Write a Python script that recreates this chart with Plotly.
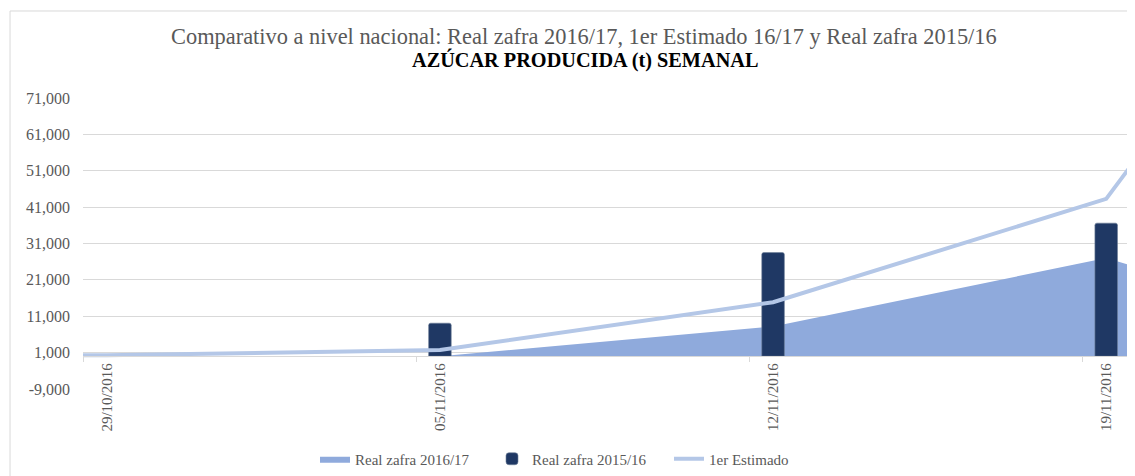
import plotly.graph_objects as go

# ---- data ----
dates = ["2016-10-22", "2016-10-29", "2016-11-05", "2016-11-12", "2016-11-19", "2016-11-26"]
real_1617 = [0, 0, 0, 8200, 27000, 0]
est_1617 = [0, 300, 1700, 14850, 43260, 166000]
real_1516 = [None, None, 9100, 28500, 36600, None]

x_tick_vals = ["2016-10-29", "2016-11-05", "2016-11-12", "2016-11-19"]
x_tick_text = ["29/10/2016", "05/11/2016", "12/11/2016", "19/11/2016"]
x_bound_ticks = ["2016-10-28 12:00", "2016-11-04 12:00", "2016-11-11 12:00", "2016-11-18 12:00"]
y_tick_vals = [-9000, 1000, 11000, 21000, 31000, 41000, 51000, 61000, 71000]
y_tick_text = ["-9,000", "1,000", "11,000", "21,000", "31,000", "41,000", "51,000", "61,000", "71,000"]

title_1 = "Comparativo a nivel nacional: Real zafra 2016/17, 1er Estimado 16/17 y Real zafra 2015/16"
title_2 = "AZÚCAR PRODUCIDA (t) SEMANAL"

FONT = "Liberation Serif, Times New Roman, serif"
GREY = "#595959"
GRID = "#D9D9D9"
x_range = ["2016-10-28 12:00", "2016-11-19 12:00"]
y_range = [-9000, 71000]
zero_pos = (0 - y_range[0]) / (y_range[1] - y_range[0])

fig = go.Figure()

fig.add_trace(go.Scatter(
    x=dates, y=real_1617, name="Real zafra 2016/17",
    mode="lines", line=dict(width=0, color="#8FAADC"),
    fill="tozeroy", fillcolor="#8FAADC",
    xaxis="x", yaxis="y", legendrank=1,
))
fig.add_trace(go.Bar(
    x=dates, y=real_1516, name="Real zafra 2015/16",
    marker=dict(color="#1F3864", line=dict(color="#6F7F99", width=0.6), cornerradius=2),
    width=41_000_000,
    xaxis="x2", yaxis="y2", legendrank=2,
))
fig.add_trace(go.Scatter(
    x=dates, y=est_1617, name="1er Estimado",
    mode="lines", line=dict(width=4, color="#B4C7E7"),
    xaxis="x2", yaxis="y2", legendrank=3,
))

# page body has an 8px default margin: figure is sized so it fits the window exactly
H = 468
fig.update_layout(
    width=1127, height=H,
    margin=dict(l=75, r=5, t=90, b=87, autoexpand=False),
    paper_bgcolor="white", plot_bgcolor="white",
    font=dict(family=FONT, color=GREY),
    barmode="overlay",
    xaxis=dict(
        type="date", range=x_range,
        anchor="free", position=zero_pos,
        tickvals=x_tick_vals, ticktext=x_tick_text, tickangle=-90,
        ticks="", showgrid=False, zeroline=False,
        showline=True, linecolor=GRID, linewidth=1,
        tickfont=dict(family=FONT, size=15, color=GREY),
    ),
    xaxis2=dict(
        type="date", range=x_range, overlaying="x", matches="x",
        anchor="free", position=zero_pos,
        tickvals=x_bound_ticks, ticks="outside", ticklen=5, tickcolor=GRID,
        showticklabels=False, showgrid=False, zeroline=False, showline=False,
    ),
    yaxis=dict(
        range=y_range, tickvals=y_tick_vals, ticktext=y_tick_text,
        showgrid=True, gridcolor=GRID, gridwidth=1, zeroline=False,
        ticks="", ticklabelstandoff=12,
        tickfont=dict(family=FONT, size=16, color=GREY),
    ),
    yaxis2=dict(
        range=y_range, overlaying="y", showgrid=False, zeroline=False,
        showticklabels=False, ticks="",
    ),
    legend=dict(
        orientation="h", xref="paper", x=(315 - 83) / 1047, xanchor="left",
        yref="container", y=(H - (459 - 8)) / H, yanchor="middle",
        font=dict(family=FONT, size=15, color=GREY),
        traceorder="normal", entrywidth=132, entrywidthmode="pixels",
    ),
    showlegend=True,
    shapes=[dict(
        type="rect", xref="paper", yref="paper",
        x0=-0.0697, x1=1.2, y0=-0.6, y1=1.299,
        line=dict(color=GRID, width=1), fillcolor="rgba(0,0,0,0)", layer="below",
    )],
    annotations=[
        dict(text=title_1, xref="paper", yref="paper", x=(584 - 83) / 1047, y=(389 - 36.5) / 291,
             xanchor="center", yanchor="middle", showarrow=False,
             font=dict(family=FONT, size=22.4, color=GREY)),
        dict(text="<b>" + title_2 + "</b>", xref="paper", yref="paper", x=(584.5 - 83) / 1047, y=(389 - 60) / 291,
             xanchor="center", yanchor="middle", showarrow=False,
             font=dict(family=FONT, size=20.3, color="#000000")),
    ],
)

fig.write_html("out.html")
